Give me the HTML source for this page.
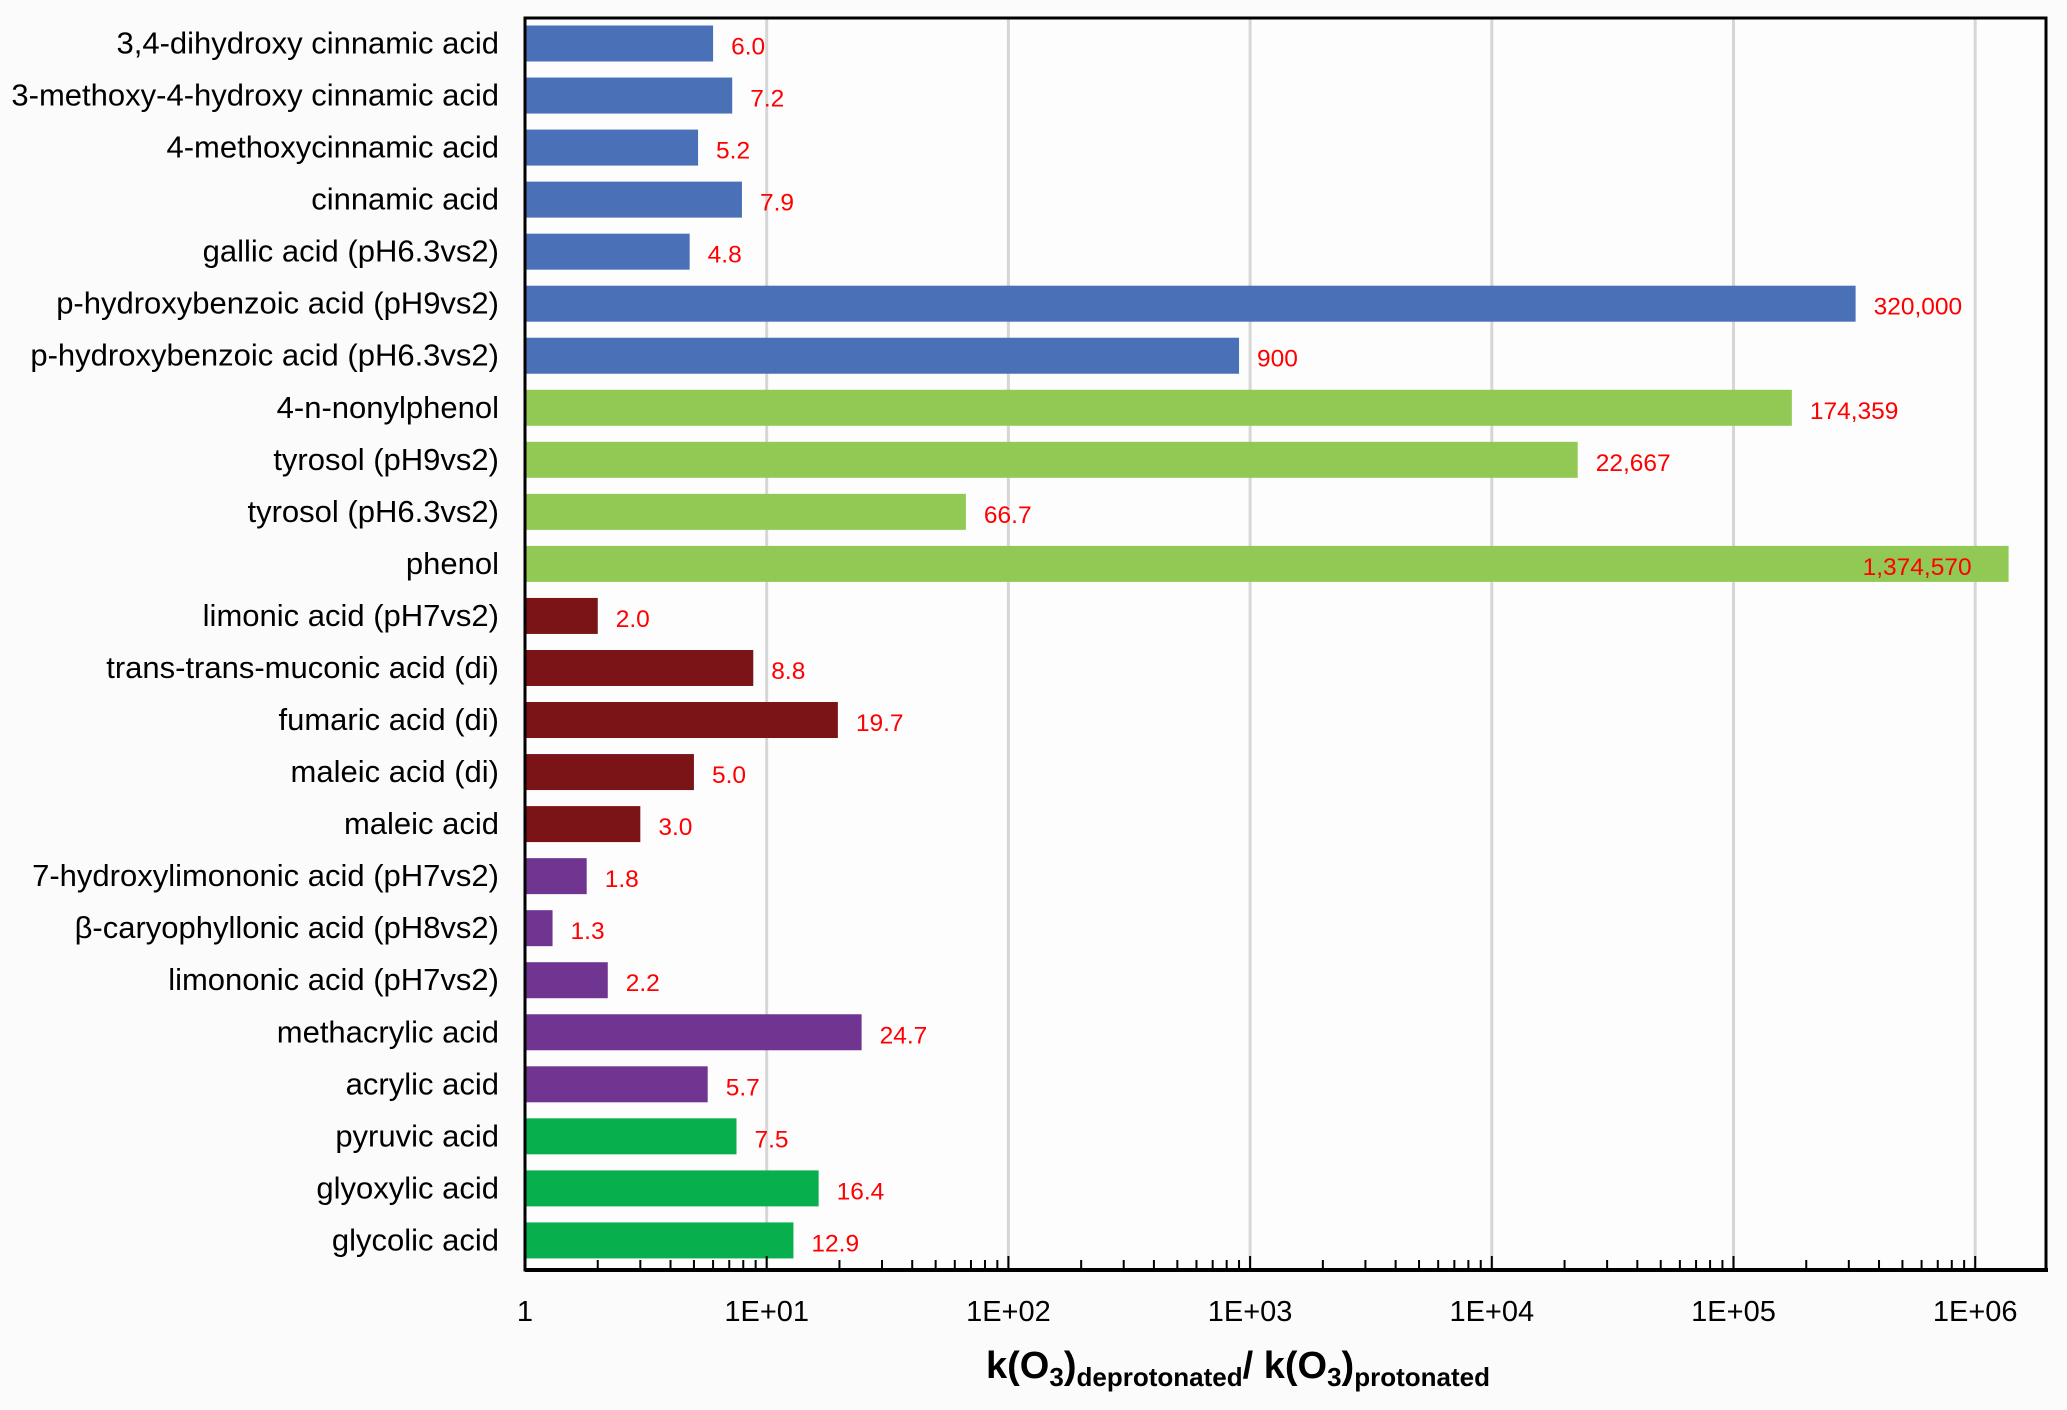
<!DOCTYPE html>
<html><head><meta charset="utf-8"><style>
html,body{margin:0;padding:0;background:#fbfbfb}
svg{display:block}
text{font-family:"Liberation Sans",sans-serif}
</style></head><body>
<svg id="chart" width="2067" height="1410" xmlns="http://www.w3.org/2000/svg">
<rect x="0" y="0" width="2067" height="1410" fill="#fbfbfb"/>
<rect x="525" y="18" width="1521" height="1252" fill="#fdfdfd"/>
<g id="grid"></g><g id="bars"></g><g id="labels"></g><g id="axis"></g>
<text x="1238" y="1378" text-anchor="middle" font-size="38" font-weight="bold" fill="#000">k(O<tspan font-size="26" dy="8">3</tspan><tspan dy="-8">)</tspan><tspan font-size="26" dy="8">deprotonated</tspan><tspan dy="-8">/ k(O</tspan><tspan font-size="26" dy="8">3</tspan><tspan dy="-8">)</tspan><tspan font-size="26" dy="8">protonated</tspan></text>
</svg>
<script>
const categories = ["3,4-dihydroxy cinnamic acid","3-methoxy-4-hydroxy cinnamic acid","4-methoxycinnamic acid","cinnamic acid","gallic acid (pH6.3vs2)","p-hydroxybenzoic acid (pH9vs2)","p-hydroxybenzoic acid (pH6.3vs2)","4-n-nonylphenol","tyrosol (pH9vs2)","tyrosol (pH6.3vs2)","phenol","limonic acid (pH7vs2)","trans-trans-muconic acid (di)","fumaric acid (di)","maleic acid (di)","maleic acid","7-hydroxylimononic acid (pH7vs2)","β-caryophyllonic acid (pH8vs2)","limononic acid (pH7vs2)","methacrylic acid","acrylic acid","pyruvic acid","glyoxylic acid","glycolic acid"];
const values = [6.0,7.2,5.2,7.9,4.8,320000,900,174359,22667,66.7,1374570,2.0,8.8,19.7,5.0,3.0,1.8,1.3,2.2,24.7,5.7,7.5,16.4,12.9];
const valueLabels = ["6.0","7.2","5.2","7.9","4.8","320,000","900","174,359","22,667","66.7","1,374,570","2.0","8.8","19.7","5.0","3.0","1.8","1.3","2.2","24.7","5.7","7.5","16.4","12.9"];
const groups = ["a","a","a","a","a","a","a","b","b","b","b","c","c","c","c","c","d","d","d","d","d","e","e","e"];
const tickValues = [1,10,100,1000,10000,100000,1000000];
const tickLabels = ["1","1E+01","1E+02","1E+03","1E+04","1E+05","1E+06"];
const colors = {a:"#4a70b8",b:"#92c955",c:"#7b1416",d:"#6f3591",e:"#07b04c"};
const NS="http://www.w3.org/2000/svg";
const L=525,R=2046,T=18,B=1270,dec=241.7,y0=43.5,step=52.04,bh=36;
const xs=v=>L+Math.log10(v)*dec;
const ys=i=>y0+i*step;
function mk(tag,attrs,parent,txt){const e=document.createElementNS(NS,tag);for(const k in attrs)e.setAttribute(k,attrs[k]);if(txt!==undefined)e.textContent=txt;document.getElementById(parent).appendChild(e);return e;}
tickValues.forEach((v,i)=>{
  if(i>0){const g=mk("line",{x1:xs(v),x2:xs(v),y1:T,y2:B,stroke:"#d6d6d6","stroke-width":3},"grid");
  
  }
  const t=mk("text",{x:xs(v),y:1321,"text-anchor":"middle","font-size":29,fill:"#000"},"axis",tickLabels[i]);
  
  
  for(let m=2;m<=9;m++){const mv=v*m;if(xs(mv)>R)break;
    const mt=mk("line",{x1:xs(mv),x2:xs(mv),y1:B-10,y2:B,stroke:"#000","stroke-width":2},"axis");
    
    }
  const mj=mk("line",{x1:xs(v),x2:xs(v),y1:B-14,y2:B,stroke:"#000","stroke-width":2},"axis");
  
  
});
categories.forEach((c,i)=>{
  const y=ys(i),x2=xs(values[i]);
  const r=mk("rect",{x:L,y:y-bh/2,width:x2-L,height:bh,fill:colors[groups[i]]},"bars");
  
  
  const cl=mk("text",{x:499,y:y+10,"text-anchor":"end","font-size":31,fill:"#000"},"labels",c);
  
  
  const inside=x2+150>R;
  const vl=mk("text",{x:inside?x2-37:x2+18,y:y+11,"text-anchor":inside?"end":"start","font-size":24.5,fill:"#ff0000"},"labels",valueLabels[i]);
  
  
});
const f=mk("rect",{x:L,y:T,width:R-L,height:B-T,fill:"none",stroke:"#000","stroke-width":3},"axis");


const xa=mk("line",{x1:L,x2:R+2,y1:B,y2:B,stroke:"#000","stroke-width":4},"axis");


</script>
</body></html>
